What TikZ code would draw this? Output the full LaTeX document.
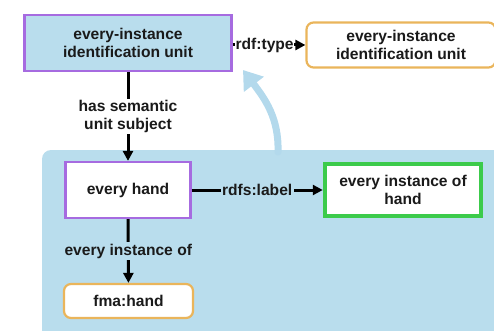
\documentclass[tikz,border=0pt]{standalone}
\usepackage{fontspec}
\setmainfont{Liberation Sans}
\usetikzlibrary{arrows.meta}
\definecolor{bgblue}{HTML}{B9DDED}
\definecolor{arcblue}{HTML}{B3D9EC}
\definecolor{upurple}{HTML}{A66BE0}
\definecolor{ugreen}{HTML}{3CCB4B}
\definecolor{uorange}{HTML}{EAB55B}
\definecolor{utext}{HTML}{1A1A1A}
\tikzset{
  txt/.style={font=\bfseries\fontsize{15.6}{18}\selectfont,text=utext,align=center},
  unit/.style={txt,draw=upurple,line width=2.2pt,fill=white},
  cls/.style={txt,draw=uorange,line width=2.2pt,rounded corners=7pt,fill=white},
  lit/.style={txt,draw=ugreen,line width=4.5pt,fill=white},
  rel/.style={line width=3pt,-{Triangle[length=10pt,width=10pt]}},
  lbl/.style={txt,fill=white,inner sep=1.5pt}
}
\begin{document}
\begin{tikzpicture}[x=1pt,y=-1pt]
\useasboundingbox (0,0) rectangle (494,331);
\fill[bgblue,rounded corners=9pt] (42,150) rectangle (510,345);
\draw[arcblue,line width=7pt,line cap=round,-{Triangle[length=18pt,width=24pt]}] (278,152) .. controls (279,118) and (265,99) .. (243,70);
\node[unit,fill=bgblue,minimum width=207,minimum height=56] (eiu) at (128,43) {every-instance\\identification unit};
\node[cls,minimum width=189,minimum height=45] (eiucls) at (401,45) {every-instance\\identification unit};
\node[unit,minimum width=125,minimum height=56] (hand) at (128,190) {every hand};
\node[lit,minimum width=156,minimum height=52] (lab) at (403,190) {every instance of\\hand};
\node[cls,minimum width=129,minimum height=34] (fma) at (128.5,301) {fma:hand};
\draw[rel] (eiu.east |- eiucls.west) -- node[lbl,inner sep=0.5pt,pos=0.44] {rdf:type} (eiucls.west);
\draw[rel] (eiu) -- node[lbl] {has semantic\\unit subject} (hand);
\draw[rel] (hand) -- node[lbl,fill=bgblue] {rdfs:label} (lab);
\draw[rel] (hand) -- node[lbl,fill=bgblue] {every instance of} (fma);
\end{tikzpicture}
\end{document}
